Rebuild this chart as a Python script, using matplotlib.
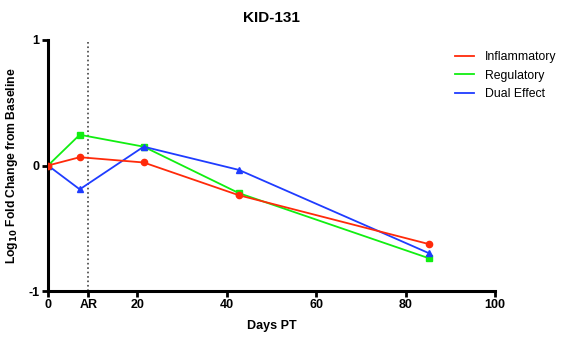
import numpy as np
import matplotlib
matplotlib.use('Agg')
from matplotlib import pyplot as plt

plt.rcParams['font.family'] = ['Liberation Sans', 'DejaVu Sans']

# data
days = [0, 7.1, 21.4, 42.7, 85.3]
inflammatory = [0, 0.066, 0.024, -0.237, -0.627]
regulatory = [0, 0.245, 0.15, -0.22, -0.74]
dual_effect = [0, -0.19, 0.15, -0.035, -0.70]
ar_day = 9
xticks = [0, ar_day, 20, 40, 60, 80, 100]
xtick_labels = ['0', 'AR', '20', '40', '60', '80', '100']

fig = plt.figure(figsize=(5.61, 3.42), dpi=100)
ax = fig.add_axes([48/561, 1-291/342, (495-48)/561, (291-40)/342])

ax.plot(days, inflammatory, color='#ff2a0a', marker='o', ms=4.5, lw=1.3, label='Inflammatory', zorder=3)
ax.plot(days, regulatory, color='#11ee11', marker='s', ms=5, lw=1.3, label='Regulatory', zorder=2)
ax.plot(days, dual_effect, color='#1f3cff', marker='^', ms=4.5, lw=1.3, label='Dual Effect', zorder=2)
ax.axvline(ar_day, color='#444444', ls=':', lw=1.2, zorder=1)

ax.set_xlim(0, 100)
ax.set_ylim(-1, 1)
ax.set_xticks(xticks)
ax.set_xticklabels(xtick_labels)
ax.set_yticks([-1, 0, 1])
ax.set_yticklabels(['-1', '0', '1'])
for s in ['top', 'right']:
    ax.spines[s].set_visible(False)
for s in ['left', 'bottom']:
    ax.spines[s].set_linewidth(2.2)
ax.tick_params(width=2, length=4, labelsize=9, pad=2)
for t in ax.get_xticklabels() + ax.get_yticklabels():
    t.set_fontweight('bold')

ax.set_xlabel('Days PT', fontsize=9, fontweight='bold', labelpad=6)
ax.set_ylabel('Log$_{\\mathbf{10}}$ Fold Change from Baseline', fontsize=8.7, fontweight='bold', labelpad=6)
ax.set_title('KID-131', fontsize=11, fontweight='bold', pad=13)

leg = ax.legend(loc='upper left', bbox_to_anchor=(0.885, 1.0), frameon=False, fontsize=8.8,
                handlelength=1.6, handletextpad=0.9, labelspacing=0.55)
for h in leg.legend_handles:
    h.set_marker('')

fig.savefig('out.png', dpi=100)
